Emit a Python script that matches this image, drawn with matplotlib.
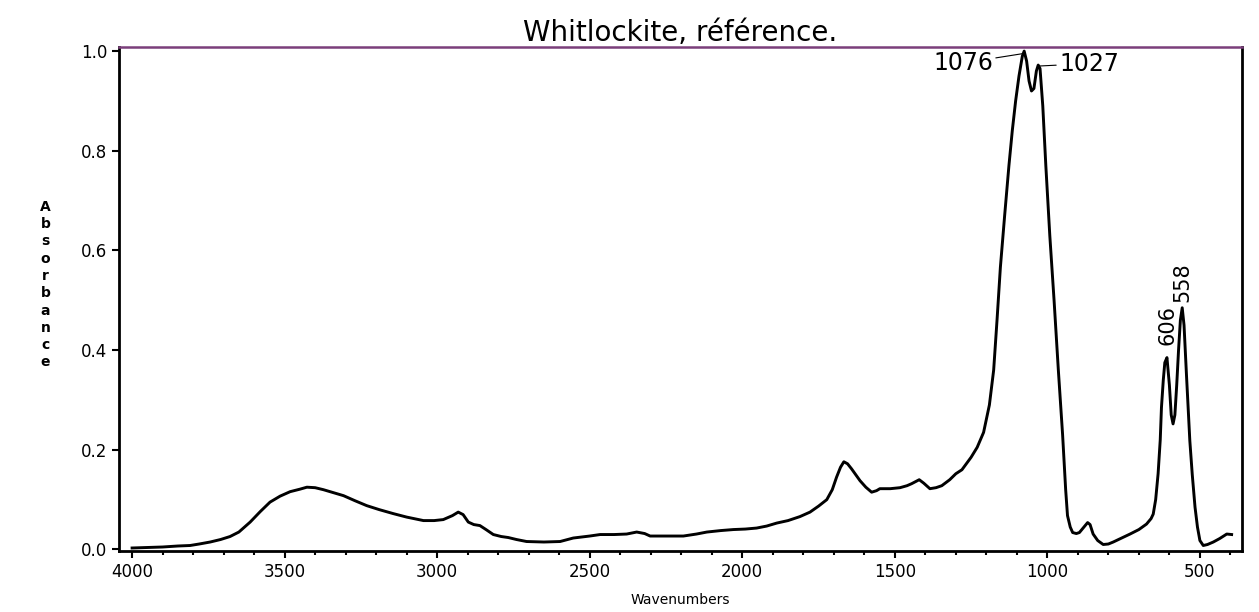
import matplotlib
matplotlib.use('Agg')
import matplotlib.pyplot as plt
from matplotlib.ticker import MultipleLocator

# spectrum (wavenumber, absorbance)
wavenumber = [4000, 3950, 3900, 3850, 3810, 3780, 3744, 3710, 3679, 3650,
              3613, 3580, 3548, 3515, 3482, 3450, 3427, 3400, 3373, 3340,
              3307, 3270, 3231, 3190, 3144, 3100, 3045, 3010, 2980, 2950,
              2931, 2915, 2898, 2880, 2860, 2840, 2816, 2790, 2767, 2740,
              2707, 2650, 2597, 2554, 2500, 2466, 2420, 2379, 2346, 2320,
              2302, 2250, 2193, 2150, 2116, 2070, 2029, 1990, 1953, 1920,
              1887, 1850, 1811, 1778, 1750, 1723, 1705, 1691, 1678, 1667,
              1655, 1642, 1628, 1614, 1595, 1576, 1560, 1549, 1515, 1483,
              1460, 1445, 1420, 1405, 1385, 1365, 1346, 1320, 1300, 1280,
              1250, 1230, 1209, 1190, 1176, 1165, 1154, 1140, 1126, 1115,
              1104, 1093, 1082, 1076, 1068, 1060, 1052, 1044, 1036, 1030,
              1024, 1015, 1005, 992, 978, 964, 950, 940, 934, 925,
              917, 905, 895, 880, 868, 860, 850, 835, 817, 800,
              784, 760, 729, 700, 675, 660, 653, 645, 637, 630,
              626, 620, 615, 608, 600, 594, 588, 582, 576, 570,
              564, 558, 552, 544, 538, 533, 525, 516, 508, 500,
              489, 475, 456, 435, 412, 396]
absorbance = [0.003, 0.004, 0.005, 0.007, 0.008, 0.011, 0.015, 0.020, 0.026, 0.035,
              0.055, 0.076, 0.095, 0.107, 0.116, 0.121, 0.125, 0.124, 0.120, 0.114,
              0.108, 0.098, 0.088, 0.080, 0.072, 0.065, 0.058, 0.058, 0.060, 0.068,
              0.075, 0.070, 0.055, 0.050, 0.048, 0.040, 0.030, 0.026, 0.024, 0.020,
              0.016, 0.015, 0.016, 0.023, 0.027, 0.030, 0.030, 0.031, 0.035, 0.032,
              0.027, 0.027, 0.027, 0.031, 0.035, 0.038, 0.040, 0.041, 0.043, 0.047,
              0.053, 0.058, 0.066, 0.075, 0.087, 0.100, 0.120, 0.145, 0.165, 0.176,
              0.172, 0.162, 0.150, 0.138, 0.125, 0.115, 0.118, 0.122, 0.122, 0.124,
              0.128, 0.132, 0.140, 0.133, 0.122, 0.124, 0.128, 0.140, 0.152, 0.160,
              0.185, 0.205, 0.235, 0.290, 0.360, 0.460, 0.566, 0.670, 0.770, 0.840,
              0.900, 0.950, 0.990, 1.000, 0.980, 0.940, 0.920, 0.925, 0.960, 0.972,
              0.965, 0.890, 0.770, 0.630, 0.500, 0.360, 0.230, 0.120, 0.068, 0.045,
              0.034, 0.032, 0.034, 0.045, 0.054, 0.050, 0.031, 0.018, 0.010, 0.011,
              0.015, 0.022, 0.031, 0.040, 0.051, 0.062, 0.071, 0.100, 0.152, 0.220,
              0.285, 0.340, 0.375, 0.385, 0.330, 0.270, 0.252, 0.270, 0.330, 0.400,
              0.460, 0.485, 0.450, 0.350, 0.280, 0.218, 0.150, 0.085, 0.045, 0.018,
              0.008, 0.010, 0.015, 0.022, 0.031, 0.030]

plt.rcParams['font.family'] = ['DejaVu Sans']

fig = plt.figure(figsize=(12.59, 6.12), dpi=100)
ax = fig.add_axes([0.0945, 0.0997, 0.892, 0.8233])

ax.plot(wavenumber, absorbance, color='black', lw=2.1)

ax.set_xlim(4043, 362)
ax.set_ylim(-0.003, 1.008)
ax.xaxis.set_major_locator(MultipleLocator(500))
ax.xaxis.set_minor_locator(MultipleLocator(100))
ax.yaxis.set_major_locator(MultipleLocator(0.2))
ax.yaxis.set_major_formatter(plt.FormatStrFormatter('%.1f'))
ax.tick_params(axis='both', which='major', direction='out', length=5, width=1.5,
               labelsize=12)
ax.tick_params(axis='x', which='minor', direction='out', length=3, width=1.5)

for side in ['left', 'bottom', 'right']:
    ax.spines[side].set_linewidth(2.0)
ax.spines['top'].set_linewidth(1.8)
ax.spines['top'].set_color('#7b3f7b')

ax.set_title('Whitlockite, référence.', fontsize=20, pad=4)
ax.set_xlabel('Wavenumbers', fontsize=10, labelpad=9)
fig.text(0.036, 0.535, '\n'.join('Absorbance'), fontsize=10, ha='center',
         va='center', linespacing=1.3, fontweight='bold')

# peak labels
ax.annotate('1076', xy=(1080, 0.995), xytext=(1178, 0.976), fontsize=17,
            ha='right', va='center',
            arrowprops=dict(arrowstyle='-', lw=0.8, color='black',
                            shrinkA=0, shrinkB=0))
ax.annotate('1027', xy=(1030, 0.970), xytext=(962, 0.975), fontsize=17,
            ha='left', va='center',
            arrowprops=dict(arrowstyle='-', lw=0.8, color='black',
                            shrinkA=0, shrinkB=0))
ax.text(606, 0.41, '606', rotation=90, ha='center', va='bottom', fontsize=15)
ax.text(558, 0.497, '558', rotation=90, ha='center', va='bottom', fontsize=15)

plt.savefig('out.png', dpi=100)
